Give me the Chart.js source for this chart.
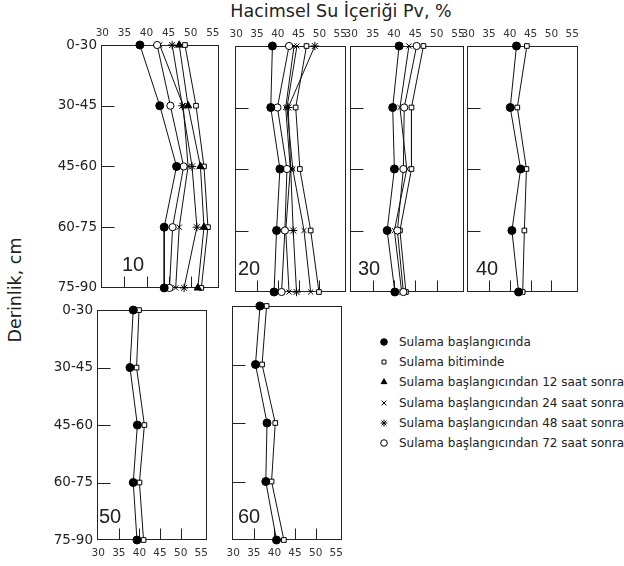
<!DOCTYPE html>
<html>
<head>
<meta charset="utf-8">
<script src="https://cdn.jsdelivr.net/npm/chart.js"></script>
<style>
  body { margin: 0; background: #fff; overflow: hidden; }
  #wrap { position: relative; width: 624px; height: 566px; font-family: "DejaVu Sans", sans-serif; color: #222; overflow: hidden; }
  .panel { position: absolute; }
  #title { position: absolute; left: 341px; top: 1px; transform: translateX(-50%); font-size: 17.5px; white-space: nowrap; }
  #ytitle { position: absolute; left: 15px; top: 290px; transform: translate(-50%, -50%) rotate(-90deg); font-size: 17.5px; white-space: nowrap; }
  .lg { position: absolute; left: 378px; height: 20px; line-height: 20px; font-size: 12px; white-space: nowrap; }
  .lg .mk { position: absolute; left: 0; top: 0; width: 12px; height: 20px; }
  .lg .tx { position: absolute; left: 21px; top: 0; }
</style>
</head>
<body>
<div id="wrap">
  <div id="title">Hacimsel Su İçeriği Pv, %</div>
  <div id="ytitle">Derinlik, cm</div>
</div>
<script>
// derinlik sınıfları (y ekseni) ve x ekseni etiketleri
const depths = ['0-30', '30-45', '45-60', '60-75', '75-90'];
const xTicks = [30, 35, 40, 45, 50, 55];
const innerTicks = [35, 40, 45, 50];

const seriesNames = [
  'Sulama başlangıcında',
  'Sulama bitiminde',
  'Sulama başlangıcından 12 saat sonra',
  'Sulama başlangıcından 24 saat sonra',
  'Sulama başlangıcından 48 saat sonra',
  'Sulama başlangıcından 72 saat sonra'
];

// Pv (%) değerleri, derinlik sırasına göre
const p10_start = [38.5, 43.0, 46.8, 44.0, 44.0];
const p10_end   = [48.7, 51.2, 53.0, 53.9, 52.4];
const p10_h12   = [47.4, 49.4, 52.2, 53.0, 51.6];
const p10_h24   = [43.0, 48.3, 49.4, 47.4, 46.6];
const p10_h48   = [45.8, 48.1, 50.3, 51.4, 48.5];
const p10_h72   = [42.4, 45.4, 48.4, 45.9, 45.2];

const p20_start = [38.7, 38.3, 40.5, 39.7, 39.1];
const p20_end   = [46.9, 44.3, 45.3, 47.9, 49.9];
const p20_h12   = [44.6, 42.2, 43.6, 46.3, 47.9];
const p20_h24   = [43.9, 41.9, 43.0, 41.9, 42.7];
const p20_h48   = [48.9, 42.5, 43.1, 43.7, 44.5];
const p20_h72   = [42.7, 39.9, 42.2, 41.7, 40.9];

const p30_start = [41.2, 39.7, 40.1, 38.4, 40.2];
const p30_end   = [46.9, 44.1, 44.1, 41.4, 42.8];
const p30_h24   = [43.5, 41.4, 43.0, 40.1, 41.8];
const p30_h72   = [45.3, 42.4, 42.2, 40.8, 42.2];

const p40_start = [41.6, 40.1, 42.6, 40.5, 42.1];
const p40_end   = [44.1, 41.8, 44.0, 43.5, 43.1];

const p50_start = [38.5, 37.7, 39.5, 38.5, 39.4];
const p50_end   = [39.9, 39.3, 41.2, 40.0, 41.0];

const p60_start = [36.5, 35.4, 38.2, 37.9, 40.5];
const p60_end   = [38.1, 37.0, 40.2, 39.3, 42.3];

const XMIN = 29.7, XMAX = 56.4;

const markers = {
  start: { pointStyle: 'circle', pointRadius: 4, pointBackgroundColor: '#000' },
  end:   { pointStyle: 'rect', pointRadius: 3.3, pointBackgroundColor: '#fff' },
  h12:   { pointStyle: 'triangle', pointRadius: 4.2, pointBackgroundColor: '#000' },
  h24:   { pointStyle: 'crossRot', pointRadius: 3.6, pointBackgroundColor: '#fff' },
  h48:   { pointStyle: 'star', pointRadius: 4.2, pointBackgroundColor: '#fff' },
  h72:   { pointStyle: 'circle', pointRadius: 3.6, pointBackgroundColor: '#fff' }
};

const panels = [
  { tag: '10', left: 101, top: 45, w: 118, h: 247, xPos: 'top', yLabels: true, dx: 21,
    series: [['start', p10_start], ['h72', p10_h72], ['h24', p10_h24], ['h48', p10_h48], ['h12', p10_h12], ['end', p10_end]] },
  { tag: '20', left: 235, top: 46, w: 111, h: 246, xPos: 'top', yLabels: false, dx: 3,
    // bu panelde 12 saat serisi şekilde × ile çizilmiş
    series: [['start', p20_start], ['h72', p20_h72], ['h24', p20_h24], ['h48', p20_h48], ['h12', p20_h12, 'crossRot'], ['end', p20_end]] },
  { tag: '30', left: 350, top: 46, w: 114, h: 246, xPos: 'top', yLabels: false, dx: 8,
    series: [['start', p30_start], ['h72', p30_h72], ['h24', p30_h24], ['end', p30_end]] },
  { tag: '40', left: 467, top: 46, w: 111, h: 246, xPos: 'top', yLabels: false, dx: 9,
    series: [['start', p40_start], ['end', p40_end]] },
  { tag: '50', left: 97, top: 306, w: 110, h: 234, xPos: 'bottom', yLabels: true, dx: 2,
    series: [['start', p50_start], ['end', p50_end]] },
  { tag: '60', left: 232, top: 306, w: 110, h: 234, xPos: 'bottom', yLabels: false, dx: 6,
    series: [['start', p60_start], ['end', p60_end]] }
];

// çerçeve, iç tik çizgileri ve panel numarası
const framePlugin = {
  id: 'frame',
  beforeDatasetsDraw(chart, args, opts) {
    const { ctx, chartArea: a, scales: { x, y } } = chart;
    ctx.save();
    ctx.strokeStyle = '#222';
    ctx.lineWidth = 1;
    const L = Math.round(a.left) + 0.5, T = Math.round(a.top) + 0.5;
    const R = Math.round(a.right) - 0.5, B = Math.round(a.bottom) - 0.5;
    ctx.strokeRect(L, T, R - L, B - T);
    ctx.beginPath();
    for (let i = 1; i < depths.length - 1; i++) {
      const py = Math.round(y.getPixelForValue(i)) + 0.5;
      ctx.moveTo(L, py);
      ctx.lineTo(L + 13, py);
    }
    innerTicks.forEach(v => {
      const px = Math.round(x.getPixelForValue(v)) + 0.5;
      ctx.moveTo(px, B);
      ctx.lineTo(px, B - 11);
    });
    ctx.stroke();
    ctx.fillStyle = '#222';
    ctx.font = '20px "Liberation Sans"';
    ctx.textBaseline = 'alphabetic';
    ctx.fillText(opts.tag, a.left + opts.dx, a.bottom - 17);
    ctx.restore();
  }
};

const wrap = document.getElementById('wrap');

function makePanel(p) {
  const padL = p.yLabels ? 46 : 16, padR = 12, axisH = 22, edge = 8;
  const padT = p.xPos === 'top' ? axisH : edge;
  const padB = p.xPos === 'bottom' ? axisH : edge;
  const div = document.createElement('div');
  div.className = 'panel';
  let dLeft = p.left - padL, dWidth = p.w + padL + padR;
  div.style.left = dLeft + 'px';
  div.style.top = (p.top - padT) + 'px';
  div.style.width = dWidth + 'px';
  div.style.height = (p.h + padT + padB) + 'px';
  const cv = document.createElement('canvas');
  div.appendChild(cv);
  wrap.appendChild(div);

  const datasets = p.series.map(([key, vals, style]) => Object.assign({
    data: vals.map((v, i) => ({ x: v, y: depths[i] })),
    borderColor: '#111',
    borderWidth: 1,
    pointBorderColor: '#000',
    pointBorderWidth: 1,
    tension: 0,
    clip: false
  }, markers[key], style ? { pointStyle: style, pointRadius: 3.6, pointBackgroundColor: '#fff' } : {}));

  const chart = new Chart(cv, {
    type: 'line',
    data: { labels: depths, datasets },
    options: {
      responsive: true,
      maintainAspectRatio: false,
      animation: false,
      layout: { padding: {
        left: p.yLabels ? 0 : padL,
        right: padR,
        top: p.xPos === 'top' ? 0 : edge,
        bottom: p.xPos === 'bottom' ? 0 : edge
      } },
      plugins: {
        legend: { display: false },
        tooltip: { enabled: false },
        frame: { tag: p.tag, dx: p.dx }
      },
      scales: {
        x: {
          type: 'linear', position: p.xPos, min: XMIN, max: XMAX,
          grid: { display: false, drawTicks: false },
          border: { display: false },
          afterBuildTicks: ax => { ax.ticks = xTicks.map(v => ({ value: v })); },
          afterFit: ax => { ax.height = axisH; },
          ticks: { font: { family: 'DejaVu Sans', size: 10.5 }, color: '#333',
                   padding: p.xPos === 'top' ? 5 : 7, maxRotation: 0, autoSkip: false }
        },
        y: {
          type: 'category', labels: depths, offset: false, display: p.yLabels,
          grid: { display: false, drawTicks: false },
          border: { display: false },
          afterFit: ax => { ax.width = padL; },
          ticks: { font: { family: 'DejaVu Sans', size: 13.5 }, color: '#222', padding: 4 }
        }
      }
    },
    plugins: [framePlugin]
  });

  // çizim alanını hedef kutuya oturt
  const a = chart.chartArea;
  const offL = a.left - padL;
  const offR = (chart.width - a.right) - padR;
  if (offL || offR) {
    dLeft -= offL;
    dWidth += offL + offR;
    div.style.left = dLeft + 'px';
    div.style.width = dWidth + 'px';
    chart.resize();
  }
}

panels.forEach(makePanel);

// gösterge (lejant)
const legendKeys = ['start', 'end', 'h12', 'h24', 'h48', 'h72'];
legendKeys.forEach((key, i) => {
  const row = document.createElement('div');
  row.className = 'lg';
  row.style.top = (332 + i * 20.2) + 'px';
  const mk = document.createElement('canvas');
  mk.className = 'mk';
  mk.width = 12; mk.height = 20;
  const tx = document.createElement('span');
  tx.className = 'tx';
  tx.textContent = seriesNames[i];
  row.appendChild(mk);
  row.appendChild(tx);
  wrap.appendChild(row);
  const c = mk.getContext('2d');
  const m = markers[key];
  c.fillStyle = m.pointBackgroundColor;
  c.strokeStyle = '#000';
  c.lineWidth = 1;
  const r = key === 'end' ? 2.8 : 3.3;
  Chart.helpers.drawPoint(c, { pointStyle: m.pointStyle, radius: r, borderWidth: 1, rotation: 0 }, 6, 10);
});
</script>
</body>
</html>
